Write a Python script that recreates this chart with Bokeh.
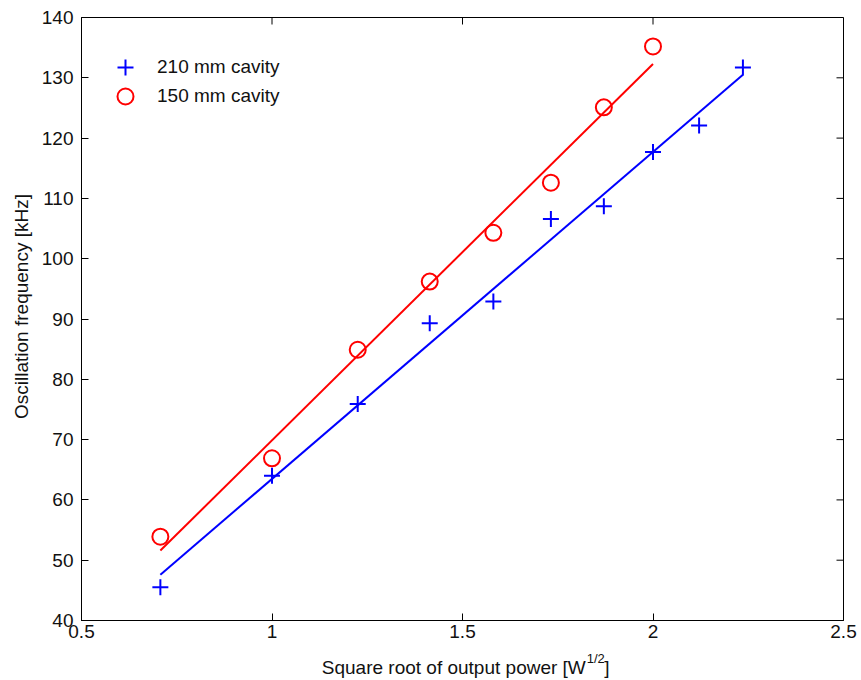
import math
from bokeh.plotting import figure
from bokeh.models import Range1d, FixedTicker, Legend, LegendItem
from bokeh.layouts import row, column
from bokeh.core.properties import value
from bokeh.embed import file_html
from bokeh.resources import INLINE

# ---- data ----
x_210 = [0.707, 1.0, 1.225, 1.414, 1.581, 1.732, 1.871, 2.0, 2.121, 2.236]
y_210 = [45.5, 64.0, 75.9, 89.3, 92.9, 106.6, 108.7, 117.7, 122.1, 131.7]
x_150 = [0.707, 1.0, 1.225, 1.414, 1.581, 1.732, 1.871, 2.0]
y_150 = [53.9, 66.9, 84.9, 96.2, 104.3, 112.6, 125.1, 135.2]
fit_x_210 = [0.707, 2.236]
fit_y_210 = [47.6, 130.5]
fit_x_150 = [0.707, 2.0]
fit_y_150 = [51.6, 132.3]
x_ticks = [0.5, 1, 1.5, 2, 2.5]
y_ticks = [40, 50, 60, 70, 80, 90, 100, 110, 120, 130, 140]
x_tick_labels = {0.5: "0.5", 1: "1", 1.5: "1.5", 2: "2", 2.5: "2.5"}
label_210 = "210 mm cavity"
label_150 = "150 mm cavity"
x_label_main = "Square root of output power [W"
x_label_sup = "1/2"
x_label_end = "]"
y_label = "Oscillation frequency [kHz]"

FONT = "Liberation Sans"
FS = "19px"
TXT = "#111111"
BLUE = "#0000ff"
RED = "#ff0000"

XMIN, XMAX, YMIN, YMAX = 0.5, 2.5, 40, 140
FRAME_W, FRAME_H = 762, 603
TICK = 7

p = figure(width=825, height=650, output_backend="svg", toolbar_location=None,
           x_range=Range1d(XMIN, XMAX), y_range=Range1d(YMIN, YMAX),
           min_border_left=45, min_border_right=18, min_border_top=17, min_border_bottom=30)
p.background_fill_color = "white"
p.border_fill_color = "white"
p.outline_line_color = "black"
p.outline_line_width = 1
p.xgrid.visible = False
p.ygrid.visible = False

def style_axis(ax, ticks, standoff):
    ax.ticker = FixedTicker(ticks=ticks)
    ax.major_tick_in = TICK
    ax.major_tick_out = 0
    ax.minor_tick_in = 0
    ax.minor_tick_out = 0
    ax.axis_line_color = "black"
    ax.axis_line_width = 1
    ax.major_tick_line_color = "black"
    ax.major_tick_line_width = 1
    ax.major_label_text_font = FONT
    ax.major_label_text_font_size = FS
    ax.major_label_text_color = TXT
    ax.major_label_standoff = standoff

style_axis(p.xaxis[0], x_ticks, 4)
style_axis(p.yaxis[0], y_ticks, 8)
p.xaxis[0].major_label_overrides = x_tick_labels

# inward ticks on the top and right edges of the box
dy = TICK * (YMAX - YMIN) / FRAME_H
dx = TICK * (XMAX - XMIN) / FRAME_W
p.segment(x0=x_ticks, y0=[YMAX] * len(x_ticks), x1=x_ticks, y1=[YMAX - dy] * len(x_ticks),
          line_color="black", line_width=1)
p.segment(x0=[XMAX] * len(y_ticks), y0=y_ticks, x1=[XMAX - dx] * len(y_ticks), y1=y_ticks,
          line_color="black", line_width=1)

# fit lines
p.line(fit_x_210, fit_y_210, line_color=BLUE, line_width=2)
p.line(fit_x_150, fit_y_150, line_color=RED, line_width=2)

# markers
r210 = p.scatter(x_210, y_210, marker="cross", size=16, line_color=BLUE, line_width=2)
r150 = p.scatter(x_150, y_150, marker="circle", size=16, line_color=RED, fill_color=None, line_width=2)

def make_legend(item, loc):
    return Legend(items=[item], location=loc, margin=0, padding=0, spacing=0,
                  glyph_width=40, glyph_height=40, label_height=29,
                  label_standoff=12, border_line_color=None, background_fill_alpha=0,
                  label_text_font=FONT, label_text_font_size=FS, label_text_color=TXT)

p.add_layout(make_legend(LegendItem(label=label_210, renderers=[r210]), (24, 533)), "center")
p.add_layout(make_legend(LegendItem(label=label_150, renderers=[r150]), (24, 504)), "center")

# y-axis title (left strip)
left = figure(width=36, height=680, output_backend="svg", toolbar_location=None,
              x_range=Range1d(0, 36), y_range=Range1d(0, 680),
              x_axis_type=None, y_axis_type=None, min_border=0)
left.outline_line_color = None
left.grid.visible = False
left.text(x=[21], y=[374], text=[y_label], angle=math.pi / 2,
          text_align="center", text_baseline="middle",
          text_font=value(FONT), text_font_size=value(FS), text_color=TXT)

# x-axis title (bottom strip), x in page pixels
bottom = figure(width=825, height=30, output_backend="svg", toolbar_location=None,
                x_range=Range1d(36, 861), y_range=Range1d(0, 30),
                x_axis_type=None, y_axis_type=None, min_border=0)
bottom.outline_line_color = None
bottom.grid.visible = False
bottom.text(x=[582], y=[13], text=[x_label_main], text_align="right", text_baseline="alphabetic",
            text_font=value(FONT), text_font_size=value(FS), text_color=TXT)
bottom.text(x=[583], y=[22], text=[x_label_sup], text_align="left", text_baseline="alphabetic",
            text_font=value(FONT), text_font_size=value("13px"), text_color=TXT)
bottom.text(x=[602], y=[13], text=[x_label_end], text_align="left", text_baseline="alphabetic",
            text_font=value(FONT), text_font_size=value(FS), text_color=TXT)

layout = row(left, column(p, bottom, spacing=0), spacing=0)
open("out.html", "w").write(file_html(layout, INLINE))
